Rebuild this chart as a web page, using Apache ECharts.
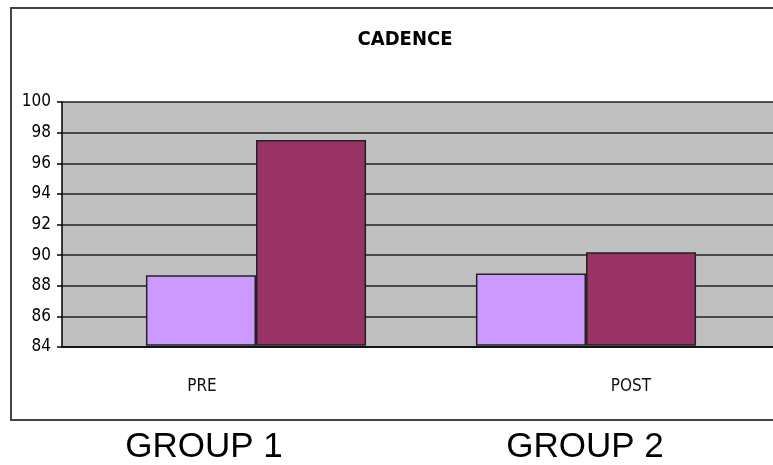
<!DOCTYPE html>
<html>
<head>
<meta charset="utf-8">
<script src="https://cdn.jsdelivr.net/npm/echarts@6/dist/echarts.min.js"></script>
<style>
  html, body { margin: 0; padding: 0; background: #fff; }
  #chart { width: 773px; height: 465px; }
</style>
</head>
<body>
<div id="chart"></div>
<script>
var categories = ['PRE', 'POST']
var groups = ['GROUP 1', 'GROUP 2']
var seriesA = [88.6, 88.7]
var seriesB = [97.5, 90.1]
var yTicks = { min: 84, max: 100, interval: 2 }

var narrow = '"Liberation Sans Narrow", "DejaVu Sans Condensed", sans-serif'

var myChart = echarts.init(document.getElementById('chart'))
myChart.setOption({
  backgroundColor: '#fff',
  animation: false,
  title: {
    text: 'CADENCE',
    left: 400,
    top: 25,
    textAlign: 'center',
    textStyle: { fontFamily: narrow, fontWeight: 'bold', fontSize: 20, color: '#000' }
  },
  graphic: [{
    type: 'rect',
    shape: { x: 11, y: 8, width: 800, height: 412 },
    style: { fill: 'none', stroke: '#444', lineWidth: 2 },
    z: -1
  }],
  grid: [
    // gray plot area with the y axis
    { left: 62, right: -5, top: 102, bottom: 118, show: true, backgroundColor: '#C0C0C0', borderWidth: 0 },
    // bars
    { left: 91, right: 22, top: 102, bottom: 118 }
  ],
  xAxis: [
    { gridIndex: 0, type: 'value', min: 0, max: 1, show: true,
      axisLine: { show: true, onZero: false, lineStyle: { color: '#000', width: 1.5 } },
      axisTick: { show: false }, axisLabel: { show: false }, splitLine: { show: false } },
    { gridIndex: 1, type: 'category', data: categories,
      axisLine: { show: false }, axisTick: { show: false },
      axisLabel: {
        margin: 33,
        formatter: function (v, i) { return i === 0 ? '{pre|' + v + '}' : '{post|' + v + '}' },
        rich: {
          pre: { padding: [0, 108, 0, 0], fontFamily: narrow, fontSize: 17, color: '#111' },
          post: { padding: [0, 0, 0, 90], fontFamily: narrow, fontSize: 17, color: '#111' }
        }
      } },
    { gridIndex: 1, type: 'category', data: groups, position: 'bottom', offset: 80,
      axisLine: { show: false }, axisTick: { show: false },
      axisLabel: {
        margin: 5,
        formatter: function (v, i) { return i === 0 ? '{g1|' + v + '}' : '{g2|' + v + '}' },
        rich: {
          g1: { padding: [0, 104, 0, 0], fontFamily: 'Liberation Sans, Arial, sans-serif', fontSize: 35, color: '#000' },
          g2: { padding: [0, 2, 0, 0], fontFamily: 'Liberation Sans, Arial, sans-serif', fontSize: 35, color: '#000' }
        }
      } }
  ],
  yAxis: [
    { gridIndex: 0, type: 'value', min: yTicks.min, max: yTicks.max, interval: yTicks.interval,
      axisLine: { show: true, lineStyle: { color: '#000', width: 1.5 } },
      axisTick: { show: true, length: 5, lineStyle: { color: '#000', width: 1.5 } },
      axisLabel: { margin: 11, fontFamily: narrow, fontSize: 17, color: '#000' },
      splitLine: { show: true, lineStyle: { color: '#222', width: 1.5 } } },
    { gridIndex: 1, type: 'value', min: yTicks.min, max: yTicks.max, interval: yTicks.interval, show: false }
  ],
  series: [{
    type: 'bar',
    xAxisIndex: 1,
    yAxisIndex: 1,
    data: seriesA,
    barGap: '0%',
    barCategoryGap: '33.3%',
    itemStyle: { color: '#CC99FF', borderColor: '#222', borderWidth: 1.5 }
  }, {
    type: 'bar',
    xAxisIndex: 1,
    yAxisIndex: 1,
    data: seriesB,
    barGap: '0%',
    barCategoryGap: '33.3%',
    itemStyle: { color: '#993366', borderColor: '#222', borderWidth: 1.5 }
  }]
})
</script>
</body>
</html>
